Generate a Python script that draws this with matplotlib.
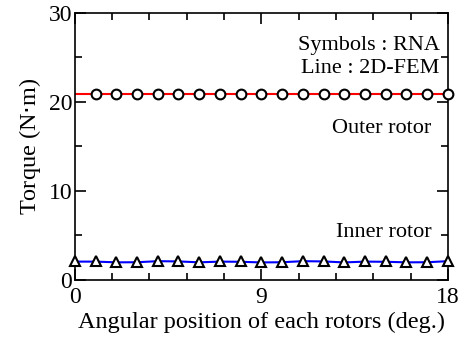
import matplotlib
matplotlib.use("Agg")
import matplotlib.pyplot as plt
from matplotlib.ticker import MultipleLocator, FixedLocator

plt.rcParams['font.family'] = ['Liberation Serif', 'DejaVu Serif']

# data
outer_x = [1, 2, 3, 4, 5, 6, 7, 8, 9, 10, 11, 12, 13, 14, 15, 16, 17, 18]
outer_rna = [20.85] * 18
outer_fem_x = [0, 18]
outer_fem = [20.85, 20.85]

inner_x = [0, 1, 2, 3, 4, 5, 6, 7, 8, 9, 10, 11, 12, 13, 14, 15, 16, 17, 18]
inner_rna = [2.1, 2.08, 2.0, 2.0, 2.1, 2.1, 2.0, 2.08, 2.08, 2.0, 2.0, 2.1, 2.1, 2.0, 2.08, 2.08, 2.0, 2.0, 2.1]
inner_fem = [2.05, 2.05, 1.97, 1.98, 2.1, 2.07, 1.97, 2.05, 2.03, 1.96, 1.98, 2.1, 2.07, 1.96, 2.05, 2.03, 1.97, 1.98, 2.1]

fig = plt.figure(figsize=(4.68, 3.38), dpi=100)
ax = fig.add_axes([0.160, 0.172, 0.797, 0.790])

ax.plot(outer_fem_x, outer_fem, color='#ff0000', lw=1.5, zorder=2)
ax.plot(inner_x, inner_fem, color='#0000ff', lw=1.5, zorder=2)
ax.plot(outer_x, outer_rna, ls='none', marker='o', ms=7, mfc='white', mec='black', mew=1.5, zorder=3, clip_on=False)
ax.plot(inner_x, inner_rna, ls='none', marker='^', ms=7, mfc='white', mec='black', mew=1.5, zorder=3, clip_on=False)

ax.set_xlim(0, 18)
ax.set_ylim(0, 30)
ax.xaxis.set_major_locator(FixedLocator([0, 9, 18]))
ax.xaxis.set_minor_locator(MultipleLocator(1.8))
ax.yaxis.set_major_locator(MultipleLocator(10))
ax.yaxis.set_minor_locator(MultipleLocator(5))
ax.tick_params(which='both', direction='in', top=True, right=True, labelsize=17, width=1.2)
ax.tick_params(axis='x', pad=5)
ax.tick_params(axis='y', pad=2)
ax.tick_params(which='major', length=8)
ax.tick_params(which='minor', length=5)
for s in ax.spines.values():
    s.set_linewidth(1.2)

ax.set_xlabel('Angular position of each rotors (deg.)', fontsize=17.5, labelpad=3)
ax.set_ylabel('Torque (N$\\cdot$m)', fontsize=17.5, labelpad=4)

ax.text(17.6, 26.3, 'Symbols : RNA', fontsize=16, ha='right', va='center')
ax.text(17.6, 23.7, 'Line : 2D-FEM', fontsize=16, ha='right', va='center')
ax.text(17.2, 17.0, 'Outer rotor', fontsize=16, ha='right', va='center')
ax.text(17.2, 5.3, 'Inner rotor', fontsize=16, ha='right', va='center')

fig.savefig('out.png', dpi=100)
